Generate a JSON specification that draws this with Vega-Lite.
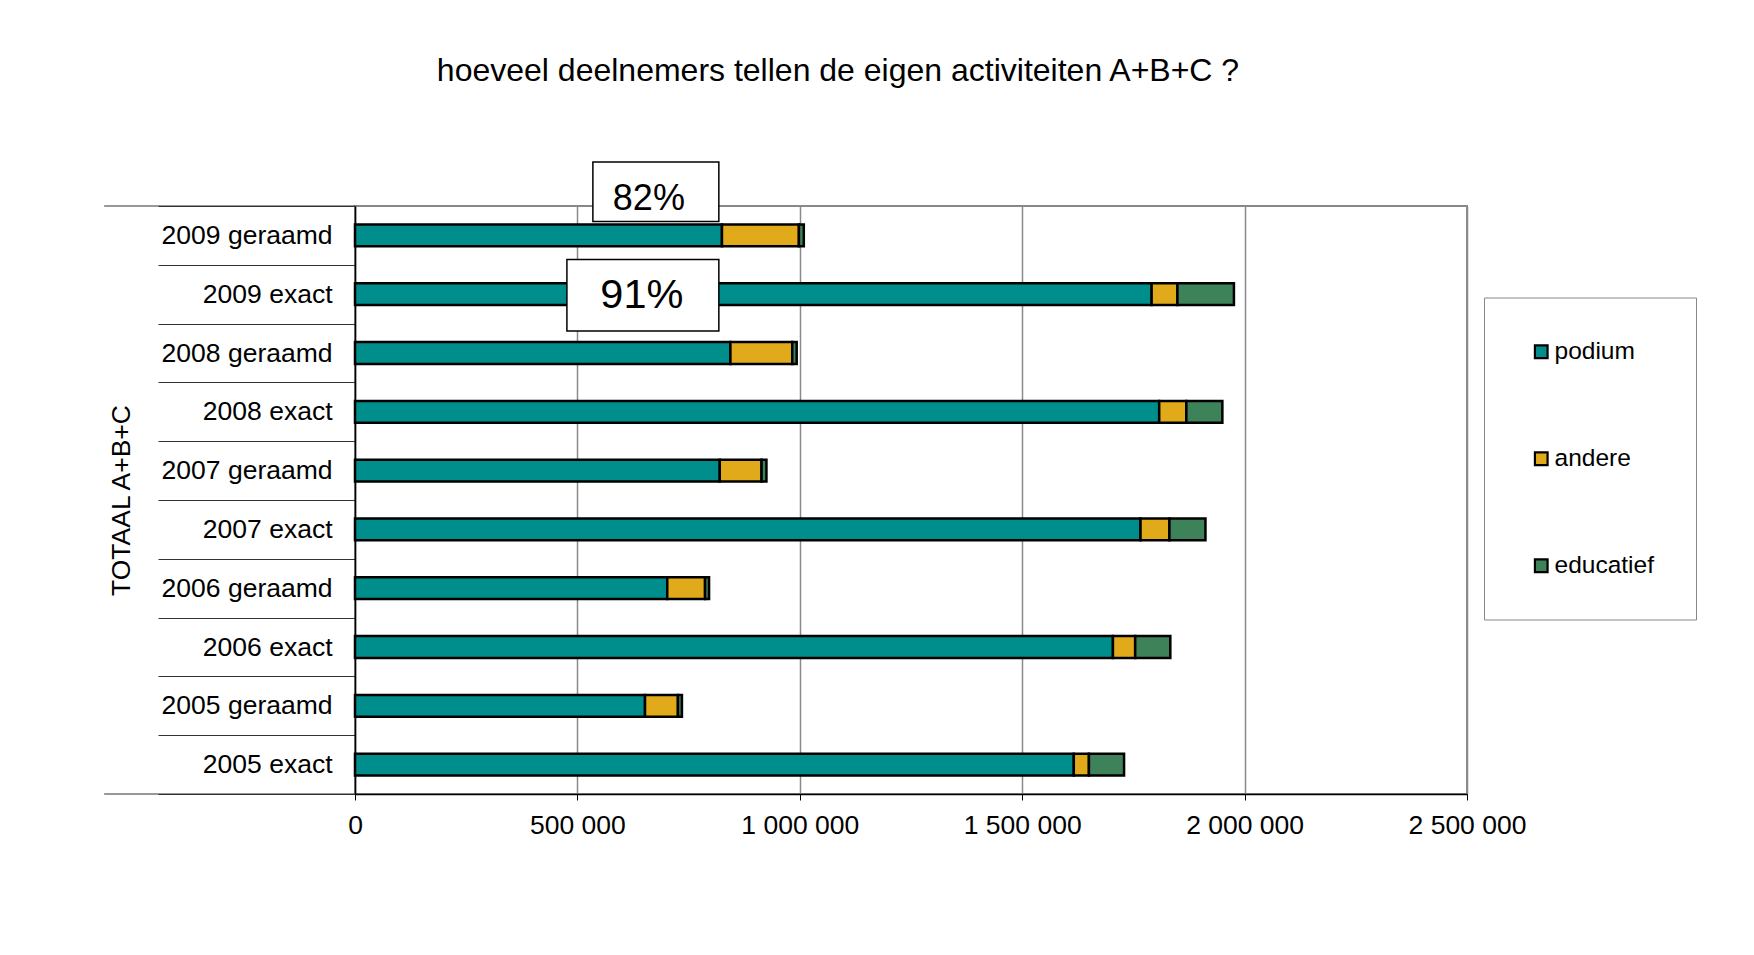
{
  "$schema": "https://vega.github.io/schema/vega-lite/v6.json",
  "width": 1112,
  "height": 588,
  "autosize": {"type": "none"},
  "padding": {"left": 355, "top": 206, "right": 287, "bottom": 161},
  "background": "white",
  "title": {
    "text": "hoeveel deelnemers tellen de eigen activiteiten A+B+C ?",
    "fontSize": 32,
    "fontWeight": "normal",
    "font": "Liberation Sans",
    "color": "black",
    "anchor": "middle",
    "baseline": "middle",
    "dx": -73,
    "offset": 58
  },
  "datasets": {
    "deelnemers": [
      {"cat": "2009 geraamd", "type": "podium", "volgorde": 1, "value": 825000},
      {"cat": "2009 geraamd", "type": "andere", "volgorde": 2, "value": 173000},
      {"cat": "2009 geraamd", "type": "educatief", "volgorde": 3, "value": 11000},
      {"cat": "2009 exact", "type": "podium", "volgorde": 1, "value": 1791000},
      {"cat": "2009 exact", "type": "andere", "volgorde": 2, "value": 58000},
      {"cat": "2009 exact", "type": "educatief", "volgorde": 3, "value": 127000},
      {"cat": "2008 geraamd", "type": "podium", "volgorde": 1, "value": 844000},
      {"cat": "2008 geraamd", "type": "andere", "volgorde": 2, "value": 139000},
      {"cat": "2008 geraamd", "type": "educatief", "volgorde": 3, "value": 10000},
      {"cat": "2008 exact", "type": "podium", "volgorde": 1, "value": 1808000},
      {"cat": "2008 exact", "type": "andere", "volgorde": 2, "value": 61000},
      {"cat": "2008 exact", "type": "educatief", "volgorde": 3, "value": 81000},
      {"cat": "2007 geraamd", "type": "podium", "volgorde": 1, "value": 820000},
      {"cat": "2007 geraamd", "type": "andere", "volgorde": 2, "value": 94000},
      {"cat": "2007 geraamd", "type": "educatief", "volgorde": 3, "value": 11000},
      {"cat": "2007 exact", "type": "podium", "volgorde": 1, "value": 1766000},
      {"cat": "2007 exact", "type": "andere", "volgorde": 2, "value": 65000},
      {"cat": "2007 exact", "type": "educatief", "volgorde": 3, "value": 81000},
      {"cat": "2006 geraamd", "type": "podium", "volgorde": 1, "value": 702000},
      {"cat": "2006 geraamd", "type": "andere", "volgorde": 2, "value": 85000},
      {"cat": "2006 geraamd", "type": "educatief", "volgorde": 3, "value": 9000},
      {"cat": "2006 exact", "type": "podium", "volgorde": 1, "value": 1704000},
      {"cat": "2006 exact", "type": "andere", "volgorde": 2, "value": 50000},
      {"cat": "2006 exact", "type": "educatief", "volgorde": 3, "value": 79000},
      {"cat": "2005 geraamd", "type": "podium", "volgorde": 1, "value": 652000},
      {"cat": "2005 geraamd", "type": "andere", "volgorde": 2, "value": 74000},
      {"cat": "2005 geraamd", "type": "educatief", "volgorde": 3, "value": 9000},
      {"cat": "2005 exact", "type": "podium", "volgorde": 1, "value": 1616000},
      {"cat": "2005 exact", "type": "andere", "volgorde": 2, "value": 34000},
      {"cat": "2005 exact", "type": "educatief", "volgorde": 3, "value": 79000}
    ]
  },
  "layer": [
    {
      "data": {"name": "deelnemers"},
      "mark": {"type": "bar", "height": {"band": 0.37}, "stroke": "black", "strokeWidth": 2.5},
      "encoding": {
        "x": {
          "field": "value",
          "type": "quantitative",
          "stack": "zero",
          "scale": {"domain": [0, 2500000], "nice": false, "zero": true},
          "axis": {
            "title": null,
            "values": [0, 500000, 1000000, 1500000, 2000000, 2500000],
            "labelExpr": "replace(format(datum.value, ','), regexp(',', 'g'), ' ')",
            "labelFontSize": 26.5,
            "labelColor": "black",
            "labelPadding": 12,
            "labelFlush": false,
            "domainColor": "black",
            "domainWidth": 1.5,
            "tickColor": "black",
            "tickSize": 6,
            "tickWidth": 1,
            "grid": true,
            "gridColor": "#8a8a8a",
            "gridWidth": 1.5
          }
        },
        "y": {
          "field": "cat",
          "type": "nominal",
          "sort": ["2009 geraamd", "2009 exact", "2008 geraamd", "2008 exact", "2007 geraamd", "2007 exact", "2006 geraamd", "2006 exact", "2005 geraamd", "2005 exact"],
          "scale": {"paddingInner": 0, "paddingOuter": 0},
          "axis": {
            "title": "TOTAAL A+B+C",
            "titleFontSize": 26.5,
            "titleFontWeight": "normal",
            "titleColor": "black",
            "titlePadding": 22,
            "labelFontSize": 26.5,
            "labelColor": "black",
            "labelPadding": -174,
            "labelLimit": 400,
            "tickBand": "extent",
            "tickSize": 197,
            "tickColor": "#333333",
            "tickWidth": 1.2,
            "domainColor": "black",
            "domainWidth": 1.5,
            "grid": false
          }
        },
        "order": {"field": "volgorde", "type": "quantitative", "sort": "ascending"},
        "color": {
          "field": "type",
          "type": "nominal",
          "sort": ["podium", "andere", "educatief"],
          "scale": {"domain": ["podium", "andere", "educatief"], "range": ["#008e8c", "#e0aa1a", "#3e8259"]},
          "legend": {
            "title": null,
            "orient": "none",
            "legendX": 1129,
            "legendY": 91.5,
            "padding": 42,
            "strokeColor": "#888888",
            "fillColor": "white",
            "rowPadding": 82,
            "labelFontSize": 24.5,
            "labelColor": "black",
            "labelOffset": 1,
            "symbolType": "square",
            "symbolSize": 160,
            "symbolStrokeColor": "black",
            "symbolStrokeWidth": 2.2,
            "symbolOffset": 3
          }
        }
      }
    },
    {
      "data": {"values": [{"cat": "2009 geraamd"}]},
      "mark": {"type": "rule", "color": "#333333", "strokeWidth": 1.2},
      "encoding": {
        "x": {"datum": -564000},
        "x2": {"datum": 0},
        "y": {"field": "cat", "type": "nominal", "bandPosition": 0,
              "sort": ["2009 geraamd", "2009 exact", "2008 geraamd", "2008 exact", "2007 geraamd", "2007 exact", "2006 geraamd", "2006 exact", "2005 geraamd", "2005 exact"]}
      }
    },
    {
      "data": {"values": [{"cat": "2005 exact"}]},
      "mark": {"type": "rule", "color": "#333333", "strokeWidth": 1.2},
      "encoding": {
        "x": {"datum": -564000},
        "x2": {"datum": 0},
        "y": {"field": "cat", "type": "nominal", "bandPosition": 1,
              "sort": ["2009 geraamd", "2009 exact", "2008 geraamd", "2008 exact", "2007 geraamd", "2007 exact", "2006 geraamd", "2006 exact", "2005 geraamd", "2005 exact"]}
      }
    },
    {
      "data": {"values": [{"cat": "2009 geraamd", "label": "82%"}]},
      "mark": {"type": "bar", "height": 59.5, "yOffset": -43.6, "fill": "white", "stroke": "black", "strokeWidth": 1.5},
      "encoding": {
        "x": {"datum": 534800},
        "x2": {"datum": 818000},
        "y": {"field": "cat", "type": "nominal",
              "sort": ["2009 geraamd", "2009 exact", "2008 geraamd", "2008 exact", "2007 geraamd", "2007 exact", "2006 geraamd", "2006 exact", "2005 geraamd", "2005 exact"]}
      }
    },
    {
      "data": {"values": [{"cat": "2009 geraamd", "label": "82%"}]},
      "mark": {"type": "text", "fontSize": 36, "yOffset": -36, "color": "black", "font": "Liberation Sans"},
      "encoding": {
        "x": {"datum": 660700},
        "y": {"field": "cat", "type": "nominal",
              "sort": ["2009 geraamd", "2009 exact", "2008 geraamd", "2008 exact", "2007 geraamd", "2007 exact", "2006 geraamd", "2006 exact", "2005 geraamd", "2005 exact"]},
        "text": {"field": "label"}
      }
    },
    {
      "data": {"values": [{"cat": "2009 exact", "label": "91%"}]},
      "mark": {"type": "bar", "height": 71.5, "yOffset": 1, "fill": "white", "stroke": "black", "strokeWidth": 1.5},
      "encoding": {
        "x": {"datum": 476400},
        "x2": {"datum": 818000},
        "y": {"field": "cat", "type": "nominal",
              "sort": ["2009 geraamd", "2009 exact", "2008 geraamd", "2008 exact", "2007 geraamd", "2007 exact", "2006 geraamd", "2006 exact", "2005 geraamd", "2005 exact"]}
      }
    },
    {
      "data": {"values": [{"cat": "2009 exact", "label": "91%"}]},
      "mark": {"type": "text", "fontSize": 41.5, "yOffset": 2, "color": "black", "font": "Liberation Sans"},
      "encoding": {
        "x": {"datum": 645000},
        "y": {"field": "cat", "type": "nominal",
              "sort": ["2009 geraamd", "2009 exact", "2008 geraamd", "2008 exact", "2007 geraamd", "2007 exact", "2006 geraamd", "2006 exact", "2005 geraamd", "2005 exact"]},
        "text": {"field": "label"}
      }
    }
  ],
  "config": {
    "font": "Liberation Sans",
    "view": {"stroke": "#888888", "strokeWidth": 2},
    "axis": {"labelFont": "Liberation Sans", "titleFont": "Liberation Sans"},
    "legend": {"labelFont": "Liberation Sans"}
  }
}
